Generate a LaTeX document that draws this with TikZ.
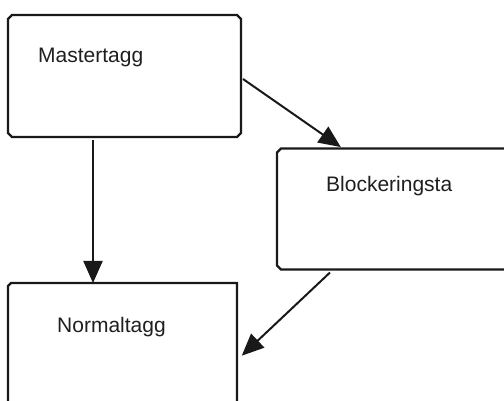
\documentclass[tikz,border=0pt]{standalone}
\usepackage{fontspec}
\setmainfont{Liberation Sans}
\usetikzlibrary{arrows.meta,calc}
\begin{document}
\begin{tikzpicture}[x=1pt,y=-1pt,
  box/.style={rectangle, draw=none, inner sep=0pt, outer sep=0pt},
  outline/.style={draw=black!90, line width=2.4pt, line join=miter},
  lbl/.style={anchor=base west, inner sep=0pt, font=\fontsize{21}{24}\selectfont, text=black!88},
  conn/.style={draw=black!90, line width=2pt, -{Triangle[length=22pt,width=19pt]}, shorten >=-1pt}]
\useasboundingbox (0,0) rectangle (504,401);
\clip (0,0) rectangle (504,401);
\node[box, minimum width=300pt, minimum height=121pt] (block) at (427,209) {};
\node[box, minimum width=233pt, minimum height=122pt] (master) at (124.5,76) {};
\node[box, minimum width=229pt, minimum height=122pt] (normal) at (122.5,344) {};
% chamfered outlines
\draw[outline] ($(master.north west)+(0,4)$) -- ($(master.north west)+(4,0)$) -- ($(master.north east)+(-4,0)$) -- ($(master.north east)+(0,4)$)
  -- ($(master.south east)+(0,-4)$) -- ($(master.south east)+(-4,0)$) -- ($(master.south west)+(4,0)$) -- ($(master.south west)+(0,-4)$) -- cycle;
\draw[outline] (block.north east) -- ($(block.north west)+(4,0)$) -- ($(block.north west)+(0,4)$)
  -- ($(block.south west)+(0,-4)$) -- ($(block.south west)+(4,0)$) -- (block.south east);
\draw[outline] (normal.south west) -- ($(normal.north west)+(0,3)$) -- ($(normal.north west)+(3,0)$) -- (normal.north east) -- (normal.south east);
\node[lbl] (tmaster) at (38,63) {Mastertagg};
\node[lbl] (tblock) at (326,192) {Blockeringsta};
\node[lbl] (tnormal) at (57,332) {Normaltagg};
\draw[conn] ($(master.south)+(-31.5,3)$) -- ($(normal.north)+(-29.5,-1)$);
\draw[conn] ($(master.east)+(2,3)$) -- ($(block.north)+(-87,-2)$);
\draw[conn] ($(block.south)+(-97,3)$) -- ($(normal.east)+(5.5,11)$);
\end{tikzpicture}
\end{document}
